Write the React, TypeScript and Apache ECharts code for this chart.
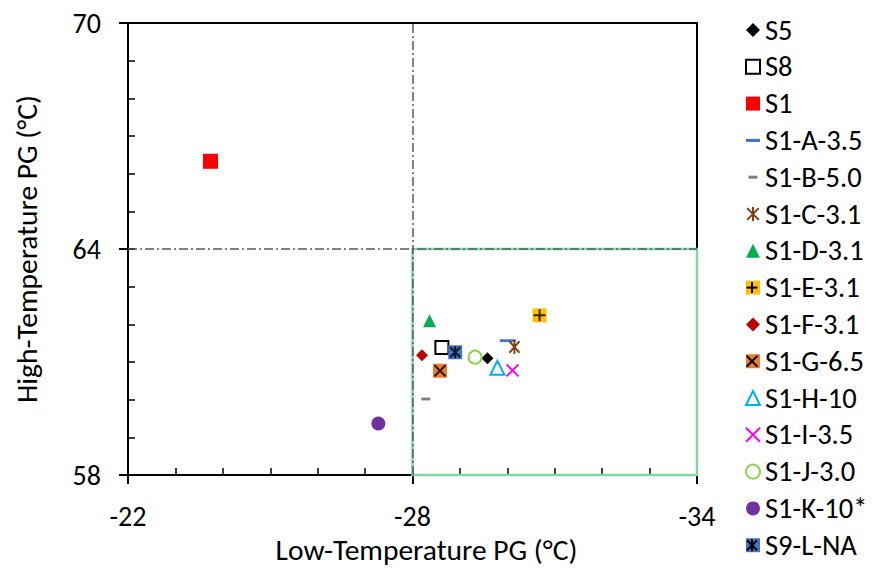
import React, { useEffect, useRef } from "react";
import * as echarts from "echarts";

// ---------- data ----------
const seriesNames = [
  "S5", "S8", "S1", "S1-A-3.5", "S1-B-5.0", "S1-C-3.1", "S1-D-3.1", "S1-E-3.1",
  "S1-F-3.1", "S1-G-6.5", "S1-H-10", "S1-I-3.5", "S1-J-3.0", "S1-K-10*", "S9-L-NA",
];
const lowTempPG = [
  -29.58, -28.62, -23.74, -30.01, -28.28, -30.15, -28.36, -30.68,
  -28.2, -28.58, -29.79, -30.11, -29.32, -27.28, -28.9,
];
const highTempPG = [
  61.1, 61.39, 66.33, 61.57, 60.02, 61.4, 62.1, 62.24,
  61.18, 60.77, 60.85, 60.78, 61.13, 59.37, 61.26,
];
const xTicks = [-34, -28, -22];
const yTicks = [58, 64, 70];
const specLowPG = [-28];
const specHighPG = [64];

// ---------- styles ----------
const PLUS = "path://M5 0L5 10M0 5L10 5";
const CROSS = "path://M0 0L10 10M10 0L0 10";
const STAR = "path://M0 1L10 11M10 1L0 11M5 0L5 12";
const DASH_A = "path://M0 0M0 4.5L16 4.5L16 8L0 8ZM16 12.5";
const DASH_B = "path://M0 0M2.5 5L11.5 5L11.5 8L2.5 8ZM14 13";
const NONE = "rgba(0,0,0,0)";

type Marker = {
  symbol: string;
  size: number | number[];
  fill: string;
  stroke?: string;
  lw?: number;
  overlay?: string;
  overlaySize?: number;
};
const markers: Marker[] = [
  { symbol: "diamond", size: 12, fill: "#000000" },
  { symbol: "rect", size: 13, fill: "#ffffff", stroke: "#000000", lw: 2 },
  { symbol: "rect", size: 15, fill: "#FF0000" },
  { symbol: DASH_A, size: [16, 12.5], fill: "#4472C4" },
  { symbol: DASH_B, size: [14, 13], fill: "#7F7F7F" },
  { symbol: STAR, size: [12, 14], fill: NONE, stroke: "#843C0C", lw: 2 },
  { symbol: "triangle", size: 13, fill: "#00B050" },
  { symbol: "rect", size: 14, fill: "#FFC000", overlay: PLUS, overlaySize: 12 },
  { symbol: "diamond", size: 12, fill: "#C00000" },
  { symbol: "rect", size: 14, fill: "#ED7D31", overlay: CROSS, overlaySize: 11 },
  { symbol: "triangle", size: 14, fill: "#ffffff", stroke: "#00B0F0", lw: 2 },
  { symbol: CROSS, size: 12, fill: NONE, stroke: "#FF00FF", lw: 2 },
  { symbol: "circle", size: 13, fill: "#ffffff", stroke: "#92D050", lw: 2 },
  { symbol: "circle", size: 14, fill: "#7030A0" },
  { symbol: "rect", size: 14, fill: "#4472C4", overlay: STAR, overlaySize: 12 },
];

const FONT = "Carlito, Lato, sans-serif";
const FS_TICK = 28;
const FS_NAME = 29.5;
const FS_LEG = 28.5;
const LEG_LEFT = 745;
const LEG_TOP = 15;
const LEG_ICON = 14;
const LEG_ROW = 30;
const LEG_GAP = 6.8;

export default function App() {
  const ref = useRef<HTMLDivElement>(null);
  useEffect(() => {
    document.body.style.margin = "0";
    const chart = echarts.init(ref.current!, null, { renderer: "svg" });

    const scatterSeries: any[] = [];
    seriesNames.forEach((name, i) => {
      const m = markers[i];
      scatterSeries.push({
        type: "scatter",
        name,
        z: 3,
        symbol: m.symbol,
        symbolSize: m.size,
        symbolKeepAspect: true,
        data: [[lowTempPG[i], highTempPG[i]]],
        itemStyle: {
          color: m.fill,
          borderColor: m.stroke || m.fill,
          borderWidth: m.lw || 0,
          opacity: 1,
        },
        emphasis: { disabled: true },
      });
    });
    // overlays (black strokes on composite markers)
    seriesNames.forEach((name, i) => {
      const m = markers[i];
      if (!m.overlay) return;
      scatterSeries.push({
        type: "scatter",
        name: name + " overlay",
        z: 4,
        symbol: m.overlay,
        symbolSize: m.overlaySize,
        symbolKeepAspect: true,
        data: [[lowTempPG[i], highTempPG[i]]],
        itemStyle: { color: NONE, borderColor: "#000000", borderWidth: 2 },
        silent: true,
        emphasis: { disabled: true },
      });
    });

    const xMin = xTicks[0];
    const xMax = xTicks[xTicks.length - 1];
    const yMin = yTicks[0];
    const yMax = yTicks[yTicks.length - 1];

    const helperSeries: any[] = [
      {
        type: "scatter",
        name: "spec-box",
        z: 1,
        data: [],
        silent: true,
        markArea: {
          silent: true,
          itemStyle: { color: NONE, borderColor: "#7DD8A3", borderWidth: 2.5 },
          label: { show: false },
          data: [[{ coord: [specLowPG[0], yMin] }, { coord: [xMin, specHighPG[0]] }]],
        },
      },
      {
        type: "scatter",
        name: "spec-lines",
        z: 2,
        data: [],
        silent: true,
        markLine: {
          silent: true,
          symbol: ["none", "none"],
          label: { show: false },
          lineStyle: { color: "#595959", width: 1.5, type: [9, 3, 2, 3] },
          data: [
            [{ coord: [specLowPG[0], yMin] }, { coord: [specLowPG[0], yMax] }],
            [{ coord: [xMax, specHighPG[0]] }, { coord: [xMin, specHighPG[0]] }],
          ],
        },
      },
    ];

    const rowCy = (i: number) => LEG_TOP + LEG_ROW / 2 + i * (LEG_ROW + LEG_GAP);
    const cx = LEG_LEFT + LEG_ICON / 2;
    const legendOverlay: any[] = [];
    const ln = (x1: number, y1: number, x2: number, y2: number) => ({
      type: "line",
      z: 100,
      silent: true,
      shape: { x1, y1, x2, y2 },
      style: { stroke: "#000000", lineWidth: 2 },
    });
    seriesNames.forEach((_, i) => {
      const m = markers[i];
      if (!m.overlay) return;
      const cy = rowCy(i);
      const h = 5.5;
      if (m.overlay === PLUS) {
        legendOverlay.push(ln(cx - h, cy, cx + h, cy), ln(cx, cy - h, cx, cy + h));
      } else if (m.overlay === CROSS) {
        legendOverlay.push(ln(cx - h, cy - h, cx + h, cy + h), ln(cx + h, cy - h, cx - h, cy + h));
      } else {
        legendOverlay.push(
          ln(cx - 5, cy - 5, cx + 5, cy + 5),
          ln(cx + 5, cy - 5, cx - 5, cy + 5),
          ln(cx, cy - 6, cx, cy + 6)
        );
      }
    });

    const axisCommon = {
      type: "value",
      splitLine: { show: false },
      axisLine: { show: true, onZero: false, lineStyle: { color: "#000000", width: 2 } },
      axisLabel: { color: "#000000", fontSize: FS_TICK, fontFamily: FONT },
      nameTextStyle: { color: "#000000", fontSize: FS_NAME, fontFamily: FONT },
      nameLocation: "middle",
    };

    const option: any = {
      animation: false,
      backgroundColor: "#ffffff",
      textStyle: { fontFamily: FONT },
      grid: {
        left: 128,
        right: 176,
        top: 23,
        bottom: 94,
        show: true,
        borderColor: "#000000",
        borderWidth: 2,
        backgroundColor: NONE,
      },
      xAxis: [
        {
          ...axisCommon,
          inverse: true,
          min: xMin,
          max: xMax,
          interval: 6,
          name: "Low-Temperature PG (°C)",
          nameGap: 57,
          nameTextStyle: { ...axisCommon.nameTextStyle, padding: [0, 0, 0, 28] },
          axisTick: { show: true, inside: false, length: 9, lineStyle: { color: "#000000", width: 2 } },
          minorTick: { show: true, splitNumber: 6, length: -7, lineStyle: { color: "#000000", width: 1.5 } },
          axisLabel: { ...axisCommon.axisLabel, margin: 27 },
        },
        {
          type: "value",
          position: "bottom",
          inverse: true,
          min: xMin,
          max: xMax,
          interval: 6,
          splitLine: { show: false },
          axisLine: { show: false, onZero: false },
          axisLabel: { show: false },
          axisTick: { show: true, inside: true, length: 7, lineStyle: { color: "#000000", width: 2 } },
        },
      ],
      yAxis: [
        {
          ...axisCommon,
          min: yMin,
          max: yMax,
          interval: 6,
          name: "High-Temperature PG (°C)",
          nameGap: 86,
          axisTick: { show: true, inside: false, length: 9, lineStyle: { color: "#000000", width: 2 } },
          minorTick: { show: true, splitNumber: 6, length: -7, lineStyle: { color: "#000000", width: 1.5 } },
          axisLabel: { ...axisCommon.axisLabel, margin: 27 },
        },
        {
          type: "value",
          position: "left",
          min: yMin,
          max: yMax,
          interval: 6,
          splitLine: { show: false },
          axisLine: { show: false, onZero: false },
          axisLabel: { show: false },
          axisTick: { show: true, inside: true, length: 7, lineStyle: { color: "#000000", width: 2 } },
        },
      ],
      legend: {
        orient: "vertical",
        left: LEG_LEFT,
        top: LEG_TOP,
        padding: 0,
        itemWidth: LEG_ICON,
        itemHeight: LEG_ICON,
        itemGap: LEG_GAP,
        selectedMode: false,
        data: seriesNames,
        textStyle: { color: "#000000", fontSize: FS_LEG, fontFamily: FONT, lineHeight: LEG_ROW, padding: [0, 0, 0, 0] },
      },
      graphic: legendOverlay,
      series: [...helperSeries, ...scatterSeries],
    };

    chart.setOption(option);
    return () => chart.dispose();
  }, []);
  return <div ref={ref} style={{ width: 873, height: 570 }} />;
}
